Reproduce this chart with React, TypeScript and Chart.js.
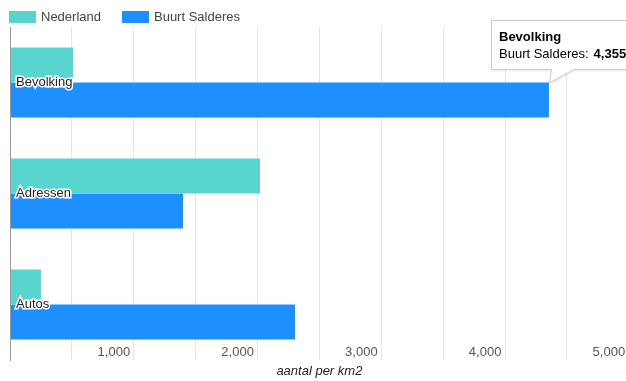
import React, { useEffect, useRef } from 'react';
import { Chart, registerables } from 'chart.js';

Chart.register(...registerables);

// ---- data ----
const categories = ['Bevolking', 'Adressen', 'Autos'];
const seriesNames = ['Nederland', 'Buurt Salderes'];
const nederland = [509, 2020, 250];
const buurtSalderes = [4355, 1398, 2303];
const axisTitle = 'aantal per km2';
const xMin = 0;
const xMax = 5000;
const xStep = 500;
const labelEvery = 1000;
const tooltipSeries = 1;
const tooltipIndex = 0;

// ---- style ----
const COLORS = ['#59d5cf', '#1e8fff'];
const FONT = 'Arial, "Liberation Sans", sans-serif';
const fmt = (v: number) => v.toLocaleString('en-US');

const legendPlugin = {
  id: 'customLegend',
  afterDraw(chart: any) {
    const ctx = chart.ctx;
    ctx.save();
    ctx.font = `13px ${FONT}`;
    ctx.textBaseline = 'middle';
    ctx.textAlign = 'left';
    let x = 9;
    chart.data.datasets.forEach((ds: any) => {
      ctx.fillStyle = ds.backgroundColor;
      ctx.fillRect(x, 11, 27, 12);
      ctx.fillStyle = '#444';
      ctx.fillText(ds.label, x + 32, 17.5);
      x += 32 + ctx.measureText(ds.label).width + 21;
    });
    ctx.restore();
  },
};

const tooltipPlugin = {
  id: 'pinnedTooltip',
  afterDraw(chart: any) {
    const ctx = chart.ctx;
    const bar = chart.getDatasetMeta(tooltipSeries).data[tooltipIndex];
    const { x, y, height } = bar.getProps(['x', 'y', 'height'], true);
    const tipX = Math.round(x);
    const tipY = Math.round(y - height / 2);
    const left = tipX - 58 + 0.5;
    const right = left + 170;
    const top = 20.5;
    const bottom = 69.5;
    ctx.save();
    ctx.beginPath();
    ctx.moveTo(left, top);
    ctx.lineTo(right, top);
    ctx.lineTo(right, bottom);
    ctx.lineTo(tipX + 24.5, bottom);
    ctx.lineTo(tipX + 0.5, tipY);
    ctx.lineTo(tipX + 2.5, bottom);
    ctx.lineTo(left, bottom);
    ctx.closePath();
    ctx.shadowColor = 'rgba(0,0,0,0.12)';
    ctx.shadowBlur = 3;
    ctx.shadowOffsetX = 1;
    ctx.shadowOffsetY = 1;
    ctx.fillStyle = '#ffffff';
    ctx.fill();
    ctx.shadowColor = 'transparent';
    ctx.strokeStyle = '#cccccc';
    ctx.lineWidth = 1;
    ctx.stroke();

    const title = categories[tooltipIndex];
    const name = seriesNames[tooltipSeries] + ':';
    const value = fmt(buurtSalderes[tooltipIndex]);
    ctx.textBaseline = 'middle';
    ctx.textAlign = 'left';
    ctx.fillStyle = '#000';
    ctx.font = `bold 13px ${FONT}`;
    ctx.fillText(title, left + 7.5, 37);
    ctx.font = `13px ${FONT}`;
    ctx.fillText(name, left + 7.5, 54);
    const w = ctx.measureText(name).width;
    ctx.font = `bold 13px ${FONT}`;
    ctx.fillText(value, left + 7.5 + w + 5, 54);
    ctx.restore();
  },
};

export default function App() {
  const ref = useRef<HTMLCanvasElement>(null);

  useEffect(() => {
    document.documentElement.style.overflow = 'hidden';
    document.body.style.overflow = 'hidden';
    document.body.style.margin = '0';
    const canvas = ref.current!;
    const chart = new Chart(canvas, {
      type: 'bar',
      data: {
        labels: categories,
        datasets: [
          { label: seriesNames[0], data: nederland, backgroundColor: COLORS[0], borderWidth: 0 },
          { label: seriesNames[1], data: buurtSalderes, backgroundColor: COLORS[1], borderWidth: 0 },
        ],
      },
      options: {
        indexAxis: 'y',
        responsive: false,
        animation: false,
        devicePixelRatio: 1,
        layout: { padding: { top: 27, left: 0, right: 11.25, bottom: 0 } },
        datasets: { bar: { categoryPercentage: 0.63, barPercentage: 1 } },
        plugins: {
          legend: { display: false },
          tooltip: { enabled: false },
          title: { display: false },
        },
        scales: {
          x: {
            type: 'linear',
            min: xMin,
            max: xMax,
            afterFit: (s: any) => {
              s.height = 21;
            },
            border: { display: false },
            grid: {
              color: (c: any) => (c.tick && c.tick.value === 0 ? '#999999' : '#e6e6e6'),
              drawTicks: false,
              lineWidth: 1,
            },
            ticks: {
              stepSize: xStep,
              align: 'end',
              mirror: true,
              padding: 0,
              color: '#555',
              maxRotation: 0,
              autoSkip: false,
              font: { family: FONT, size: 13 },
              callback: (v: any) => (v !== 0 && v % labelEvery === 0 ? fmt(v) + ' ' : ''),
            },
            title: {
              display: true,
              text: axisTitle,
              color: '#222',
              font: { family: FONT, size: 13, style: 'italic' },
              padding: { top: 0, bottom: 2 },
            },
          },
          y: {
            type: 'category',
            afterFit: (s: any) => {
              s.width = 10;
            },
            border: { display: true, color: '#999999', width: 1, z: 1 },
            grid: { display: false, drawTicks: false },
            ticks: {
              z: 1,
              mirror: true,
              padding: 6,
              color: '#222',
              textStrokeColor: '#ffffff',
              textStrokeWidth: 3,
              font: { family: FONT, size: 13 },
            },
          },
        },
      },
      plugins: [legendPlugin, tooltipPlugin],
    } as any);
    return () => chart.destroy();
  }, []);

  return (
    <div style={{ position: 'fixed', left: 0, top: 0, width: 640, height: 381 }}>
      <canvas ref={ref} width={640} height={381} style={{ width: 640, height: 381, display: 'block' }} />
    </div>
  );
}
